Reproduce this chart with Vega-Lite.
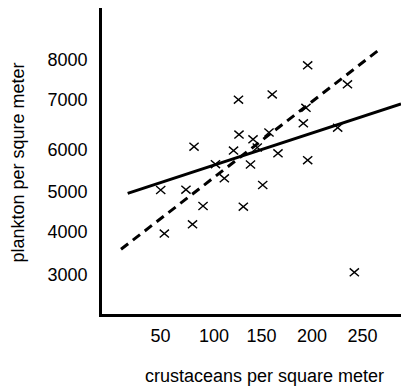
{
  "$schema": "https://vega.github.io/schema/vega-lite/v6.json",
  "autosize": "none",
  "width": 301,
  "height": 306,
  "padding": {"left": 100, "top": 9, "right": 0, "bottom": 72},
  "background": "white",
  "view": {"stroke": null},
  "config": {
    "font": "Liberation Sans",
    "axis": {
      "domainColor": "black",
      "domainWidth": 3,
      "domainCap": "square",
      "ticks": false,
      "tickSize": 0,
      "grid": false,
      "labelFont": "Liberation Sans",
      "labelFontSize": 18,
      "labelColor": "black",
      "titleFont": "Liberation Sans",
      "titleFontSize": 18,
      "titleFontWeight": "normal",
      "titleColor": "black"
    }
  },
  "datasets": {
    "pts": [
      {"crustaceans": 50.7, "plankton": 4977},
      {"crustaceans": 54.3, "plankton": 3965},
      {"crustaceans": 75.7, "plankton": 4984},
      {"crustaceans": 82.2, "plankton": 4179},
      {"crustaceans": 83.7, "plankton": 5984},
      {"crustaceans": 92.6, "plankton": 4605},
      {"crustaceans": 104.9, "plankton": 5577},
      {"crustaceans": 113.7, "plankton": 5249},
      {"crustaceans": 122.8, "plankton": 5895},
      {"crustaceans": 127.7, "plankton": 7077},
      {"crustaceans": 128.2, "plankton": 6267},
      {"crustaceans": 132.5, "plankton": 4588},
      {"crustaceans": 139.6, "plankton": 5570},
      {"crustaceans": 142.1, "plankton": 6156},
      {"crustaceans": 146.3, "plankton": 5965},
      {"crustaceans": 151.7, "plankton": 5093},
      {"crustaceans": 157.9, "plankton": 6314},
      {"crustaceans": 161.1, "plankton": 7198},
      {"crustaceans": 166.8, "plankton": 5830},
      {"crustaceans": 191.9, "plankton": 6528},
      {"crustaceans": 194.5, "plankton": 6888},
      {"crustaceans": 196.2, "plankton": 7877},
      {"crustaceans": 196.2, "plankton": 5670},
      {"crustaceans": 225.9, "plankton": 6426},
      {"crustaceans": 235.6, "plankton": 7435},
      {"crustaceans": 242.4, "plankton": 3063}
    ],
    "solid": [
      {"crustaceans": 18.0, "plankton": 4900},
      {"crustaceans": 288.6, "plankton": 6977}
    ],
    "dashed": [
      {"crustaceans": 11.4, "plankton": 3598},
      {"crustaceans": 269.5, "plankton": 8286}
    ]
  },
  "encoding": {
    "x": {
      "field": "crustaceans",
      "type": "quantitative",
      "scale": {"domain": [-9.4, 288.6], "nice": false, "zero": false},
      "axis": {
        "title": "crustaceans per square meter",
        "values": [50, 100, 150, 200, 250],
        "format": "d",
        "labelPadding": 12,
        "labelOffset": {"condition": {"test": "datum.value == 100", "value": 3}, "value": 0},
        "titleX": 164,
        "titleY": 52
      }
    },
    "y": {
      "field": "plankton",
      "type": "quantitative",
      "scale": {"domain": [2070, 9186], "nice": false, "zero": false},
      "axis": {
        "title": "plankton per squre meter",
        "values": [3000, 4000, 5000, 6000, 7000, 8000],
        "format": "d",
        "labelPadding": 13,
        "labelOffset": {"condition": [{"test": "datum.value == 7000", "value": -3}, {"test": "datum.value == 6000", "value": 4}, {"test": "datum.value == 5000", "value": 3}], "value": 0},
        "titlePadding": 19
      }
    }
  },
  "layer": [
    {
      "data": {"name": "solid"},
      "mark": {"type": "line", "color": "black", "strokeWidth": 3}
    },
    {
      "data": {"name": "dashed"},
      "mark": {"type": "line", "color": "black", "strokeWidth": 3, "strokeDash": [9, 6]}
    },
    {
      "data": {"name": "pts"},
      "mark": {
        "type": "point",
        "shape": "M-1,-0.85L1,0.85M1,-0.85L-1,0.85",
        "size": 85,
        "stroke": "black",
        "strokeWidth": 1.4,
        "filled": false,
        "opacity": 1
      }
    }
  ]
}
